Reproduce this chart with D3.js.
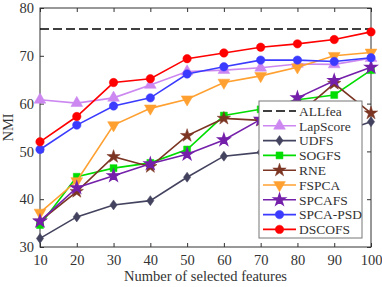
<!DOCTYPE html>
<html>
<head>
<meta charset="utf-8">
<script src="https://cdn.jsdelivr.net/npm/d3@7"></script>
<style>
  body { margin: 0; background: #fff; }
  svg { display: block; font-family: "Liberation Serif", "DejaVu Serif", serif; }
</style>
</head>
<body>
<svg id="chart" width="382" height="287"></svg>
<script>
// data
const features = [10, 20, 30, 40, 50, 60, 70, 80, 90, 100];
const allfea = 75.6;
const lapScore = [60.8, 60.1, 61.2, 63.9, 66.7, 67.0, 67.5, 68.3, 68.2, 69.5];
const udfs     = [31.8, 36.3, 38.8, 39.7, 44.6, 49.0, 49.8, 51.6, 53.6, 56.2];
const sogfs    = [34.6, 44.7, 46.5, 47.6, 50.4, 57.5, 58.8, 60.8, 61.8, 67.0];
const rne      = [35.4, 41.6, 48.9, 46.8, 53.3, 56.9, 56.5, 57.6, 64.2, 58.0];
const fspca    = [37.2, 43.8, 55.5, 59.0, 60.9, 64.4, 65.8, 67.6, 70.0, 70.7];
const spcafs   = [35.4, 42.4, 44.9, 47.4, 49.4, 52.4, 56.7, 61.2, 64.8, 67.6];
const spcaPsd  = [50.4, 55.5, 59.5, 61.2, 66.2, 67.7, 69.1, 69.1, 68.8, 69.6];
const dscofs   = [52.0, 57.3, 64.4, 65.2, 69.4, 70.6, 71.8, 72.5, 73.4, 75.0];
const yTicks = [30, 40, 50, 60, 70, 80];

const series = [
  { name: 'LapScore', values: lapScore, color: '#cc88f0', symbol: 'triUp' },
  { name: 'UDFS', values: udfs, color: '#43435f', symbol: 'diamond' },
  { name: 'SOGFS', values: sogfs, color: '#00dd00', symbol: 'square' },
  { name: 'RNE', values: rne, color: '#7b3522', symbol: 'star' },
  { name: 'FSPCA', values: fspca, color: '#ffa030', symbol: 'triDown' },
  { name: 'SPCAFS', values: spcafs, color: '#7420aa', symbol: 'hex' },
  { name: 'SPCA-PSD', values: spcaPsd, color: '#3b3bff', symbol: 'circle' },
  { name: 'DSCOFS', values: dscofs, color: '#ff0000', symbol: 'circle' }
];

const margin = { top: 8, right: 11, bottom: 40, left: 40 };
const width = 382, height = 287;
const svg = d3.select('#chart');

const x = d3.scaleLinear().domain([10, 100]).range([margin.left, width - margin.right]);
const y = d3.scaleLinear().domain([30, 80]).range([height - margin.bottom, margin.top]);

const axisColor = '#333';
const fontSize = 14.5;

// marker shapes
function symbolPath(kind) {
  switch (kind) {
    case 'triUp': return d3.symbol(d3.symbolTriangle, 60)();
    case 'triDown': return d3.symbol(d3.symbolTriangle, 60)();
    case 'diamond': return 'M0,-5L3.6,0L0,5L-3.6,0Z';
    case 'square': return d3.symbol(d3.symbolSquare, 48)();
    case 'star': return d3.symbol(d3.symbolStar, 55)();
    case 'hex': return d3.symbol(d3.symbolStar, 40)();
    default: return d3.symbol(d3.symbolCircle, 56)();
  }
}

function drawMarker(g, kind, color, cx, cy) {
  g.append('path')
    .attr('d', symbolPath(kind))
    .attr('transform', `translate(${cx},${cy})` + (kind === 'triDown' ? ' rotate(180)' : ''))
    .attr('fill', color)
    .attr('stroke', color)
    .attr('stroke-width', kind === 'hex' ? 1.5 : 0.5);
}

// axes with inward ticks
const xAxis = d3.axisBottom(x).tickValues(features).tickSizeInner(-4).tickSizeOuter(0).tickPadding(8);
const yAxis = d3.axisLeft(y).tickValues(yTicks).tickSizeInner(-4).tickSizeOuter(0).tickPadding(6);

const gx = svg.append('g').attr('transform', `translate(0,${height - margin.bottom})`).call(xAxis);
const gy = svg.append('g').attr('transform', `translate(${margin.left},0)`).call(yAxis);
const gxt = svg.append('g').attr('transform', `translate(0,${margin.top})`)
  .call(d3.axisTop(x).tickValues(features).tickSizeInner(-4).tickSizeOuter(0).tickFormat(''));
const gyr = svg.append('g').attr('transform', `translate(${width - margin.right},0)`)
  .call(d3.axisRight(y).tickValues(yTicks).tickSizeInner(-4).tickSizeOuter(0).tickFormat(''));

[gx, gy, gxt, gyr].forEach(g => {
  g.select('.domain').remove();
  g.selectAll('line').attr('stroke', axisColor);
  g.selectAll('text').attr('fill', axisColor).attr('font-size', fontSize)
    .attr('font-family', '"Liberation Serif", serif');
});

svg.append('rect')
  .attr('x', margin.left).attr('y', margin.top)
  .attr('width', width - margin.left - margin.right)
  .attr('height', height - margin.top - margin.bottom)
  .attr('fill', 'none').attr('stroke', axisColor).attr('stroke-width', 1);

// axis titles
svg.append('text')
  .attr('x', (margin.left + width - margin.right) / 2)
  .attr('y', height - 6)
  .attr('text-anchor', 'middle')
  .attr('font-size', fontSize).attr('fill', axisColor)
  .text('Number of selected features');

svg.append('text')
  .attr('transform', `translate(13,${(margin.top + height - margin.bottom) / 2}) rotate(-90)`)
  .attr('text-anchor', 'middle')
  .attr('font-size', fontSize).attr('fill', axisColor)
  .text('NMI');

// ALLfea baseline
svg.append('line')
  .attr('x1', x(10)).attr('x2', x(100))
  .attr('y1', y(allfea)).attr('y2', y(allfea))
  .attr('stroke', '#000').attr('stroke-width', 1.5)
  .attr('stroke-dasharray', '9,4');

// series lines and markers
const line = d3.line().x((d, i) => x(features[i])).y(d => y(d));
const plot = svg.append('g');

series.forEach(s => {
  plot.append('path')
    .attr('d', line(s.values))
    .attr('fill', 'none')
    .attr('stroke', s.color)
    .attr('stroke-width', 1.6);
  s.values.forEach((v, i) => drawMarker(plot, s.symbol, s.color, x(features[i]), y(v)));
});

// legend
const legend = svg.append('g');
const lx = 259, ly = 101, lw = 103, lh = 137;
legend.append('rect')
  .attr('x', lx).attr('y', ly).attr('width', lw).attr('height', lh)
  .attr('fill', '#fff').attr('stroke', '#777').attr('stroke-width', 1);

const entries = [{ name: 'ALLfea', dashed: true }].concat(series);
entries.forEach((e, i) => {
  const cy = ly + 10 + i * 14.8;
  const row = legend.append('g');
  row.append('line')
    .attr('x1', lx + 4).attr('x2', lx + 37)
    .attr('y1', cy).attr('y2', cy)
    .attr('stroke', e.dashed ? '#000' : e.color)
    .attr('stroke-width', e.dashed ? 1.5 : 1.6)
    .attr('stroke-dasharray', e.dashed ? '9,4' : null);
  if (!e.dashed) drawMarker(row, e.symbol, e.color, lx + 20.5, cy);
  row.append('text')
    .attr('x', lx + 40).attr('y', cy)
    .attr('dy', '0.35em')
    .attr('font-size', 13.5).attr('fill', axisColor)
    .text(e.name);
});
</script>
</body>
</html>
